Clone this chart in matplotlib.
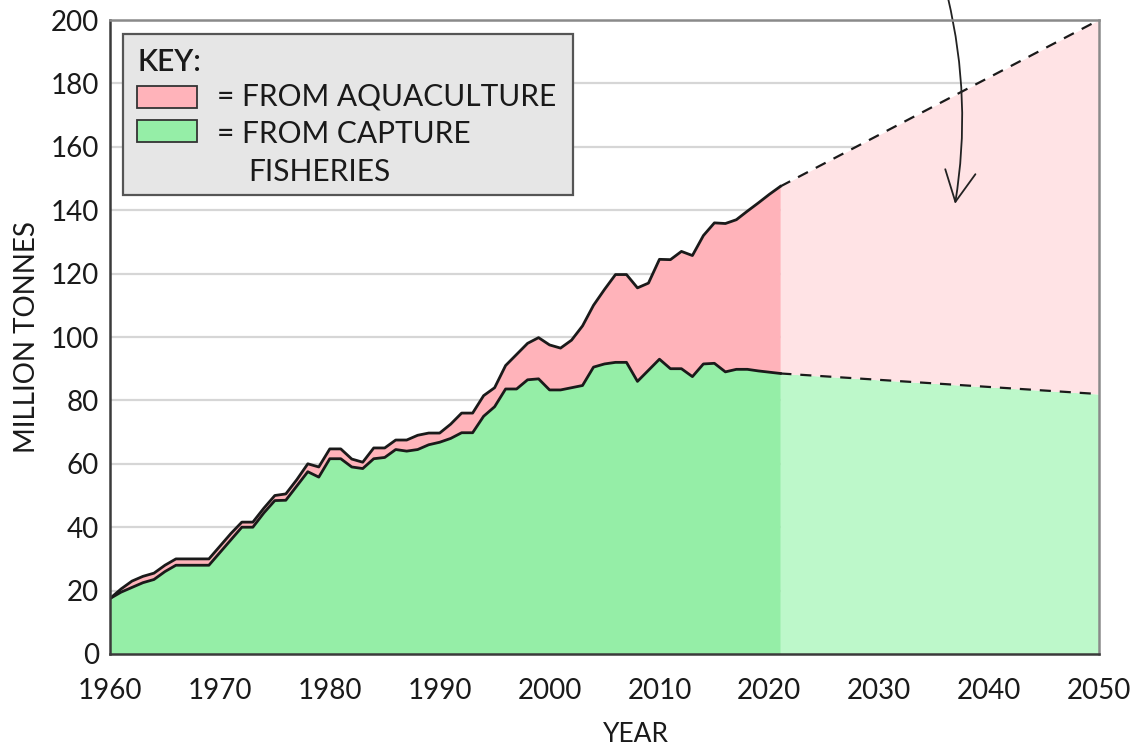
"""Fish production 1960-2050: capture fisheries vs aquaculture, with projection."""

import matplotlib
matplotlib.use("Agg")
import matplotlib.pyplot as plt
from matplotlib.patches import Rectangle

plt.rcParams["font.family"] = ["Lato", "DejaVu Sans"]

# historical data (million tonnes)
years = list(range(1960, 2022))
capture = [17.5, 19.5, 21.0, 22.5, 23.5, 26.0, 28.0, 28.0, 28.0, 28.0,
           32.0, 36.0, 40.0, 40.0, 44.5, 48.4, 48.5, 53.0, 57.5, 55.8,
           61.6, 61.6, 59.0, 58.5, 61.6, 62.0, 64.5, 64.0, 64.5, 66.0,
           66.8, 68.0, 69.8, 69.8, 75.0, 78.0, 83.6, 83.6, 86.5, 86.8,
           83.3, 83.3, 84.0, 84.7, 90.5, 91.5, 92.0, 92.0, 86.0, 89.5,
           93.0, 90.0, 90.0, 87.5, 91.5, 91.7, 89.0, 89.8, 89.8, 89.3,
           88.9, 88.5]
total = [17.5, 20.5, 23.0, 24.5, 25.5, 28.0, 30.0, 30.0, 30.0, 30.0,
         34.0, 38.0, 41.6, 41.6, 46.0, 50.0, 50.5, 55.0, 60.0, 59.0,
         64.7, 64.7, 61.5, 60.5, 65.0, 65.0, 67.5, 67.5, 69.0, 69.7,
         69.7, 72.5, 76.0, 76.0, 81.5, 84.0, 91.0, 94.5, 98.0, 99.8,
         97.5, 96.5, 99.0, 103.5, 110.0, 115.0, 119.7, 119.7, 115.5, 117.0,
         124.5, 124.4, 127.0, 125.7, 132.0, 136.0, 135.8, 137.0, 139.7, 142.3,
         145.0, 147.5]

# projection
proj_years = [2021, 2050]
proj_capture = [88.5, 82.0]
proj_total = [147.5, 200.0]

x_ticks = list(range(1960, 2051, 10))
y_ticks = list(range(0, 201, 20))

PINK = "#ffb3ba"
GREEN = "#95eea7"
PALE_PINK = "#ffe3e5"
PALE_GREEN = "#bdf8ca"

W, H = 1135, 748


def px(x, y):
    """pixel position (top-left origin) -> figure fraction"""
    return x / W, 1 - y / H


fig = plt.figure(figsize=(W / 100, H / 100), dpi=100)
ax = fig.add_axes([110 / W, 1 - 654 / H, 989 / W, 634 / H])

ax.grid(True, axis="y", color="#d6d6d6", linewidth=1.6, zorder=0)
ax.set_axisbelow(True)

ax.fill_between(years, 0, capture, color=GREEN, linewidth=0, zorder=2)
ax.fill_between(years, capture, total, color=PINK, linewidth=0, zorder=2)
ax.fill_between(proj_years, 0, proj_capture, color=PALE_GREEN, linewidth=0, zorder=2)
ax.fill_between(proj_years, proj_capture, proj_total, color=PALE_PINK, linewidth=0, zorder=2)

ax.plot(years, total, color="#1a1a1a", lw=2.0, zorder=3)
ax.plot(years, capture, color="#1a1a1a", lw=2.0, zorder=3)
ax.plot(proj_years, proj_total, color="#1a1a1a", lw=1.6, ls=(0, (5, 4)), zorder=3)
ax.plot(proj_years, proj_capture, color="#1a1a1a", lw=1.6, ls=(0, (5, 4)), zorder=3)

ax.set_xlim(1960, 2050)
ax.set_ylim(0, 200)
ax.set_xticks(x_ticks)
ax.set_yticks(y_ticks)
ax.tick_params(length=0, labelsize=20, labelcolor="#1a1a1a")
ax.tick_params(axis="x", pad=17)
ax.tick_params(axis="y", pad=8)
for side in ("left", "bottom"):
    ax.spines[side].set_color("#3a3a3a")
    ax.spines[side].set_linewidth(1.8)
for side in ("top", "right"):
    ax.spines[side].set_color("#8a8a8a")
    ax.spines[side].set_linewidth(1.8)
for sp in ax.spines.values():
    sp.set_zorder(4)

ax.set_xlabel("YEAR", fontsize=19, color="#1a1a1a")
ax.xaxis.set_label_coords((636 - 110) / 989, -0.107)
ax.set_ylabel("MILLION TONNES", fontsize=20, color="#1a1a1a")
ax.yaxis.set_label_coords(-0.071, 0.5)

# key box
x0, y0 = px(123, 195)
x1, y1 = px(573, 34)
fig.patches.append(Rectangle((x0, y0), x1 - x0, y1 - y0, transform=fig.transFigure,
                             facecolor="#e6e6e6", edgecolor="#555555", lw=1.6, zorder=5))
for (top, color) in [(86, PINK), (120, GREEN)]:
    sx0, sy0 = px(137, top + 22)
    sx1, sy1 = px(197, top)
    fig.patches.append(Rectangle((sx0, sy0), sx1 - sx0, sy1 - sy0, transform=fig.transFigure,
                                 facecolor=color, edgecolor="#333333", lw=1.3, zorder=6))
key_text = [(137, 62, "KEY:"), (217, 97, "= FROM AQUACULTURE"),
            (217, 134, "= FROM CAPTURE"), (248, 172, "FISHERIES")]
for x, y, s in key_text:
    fig.text(*px(x, y), s, fontsize=21.5, va="center", ha="left", color="#1a1a1a",
             fontweight="semibold" if s == "KEY:" else "normal", zorder=7)

# curved arrow from above the plot into the projection area
ax.annotate("", xy=(2036.9, 142), xycoords="data",
            xytext=px(948, -2), textcoords="figure fraction",
            arrowprops=dict(arrowstyle="->,head_length=1.1,head_width=0.55",
                            mutation_scale=20, connectionstyle="arc3,rad=-0.1",
                            lw=1.3, color="#222222", shrinkA=0, shrinkB=0),
            annotation_clip=False)

fig.savefig("out.png", dpi=100)
